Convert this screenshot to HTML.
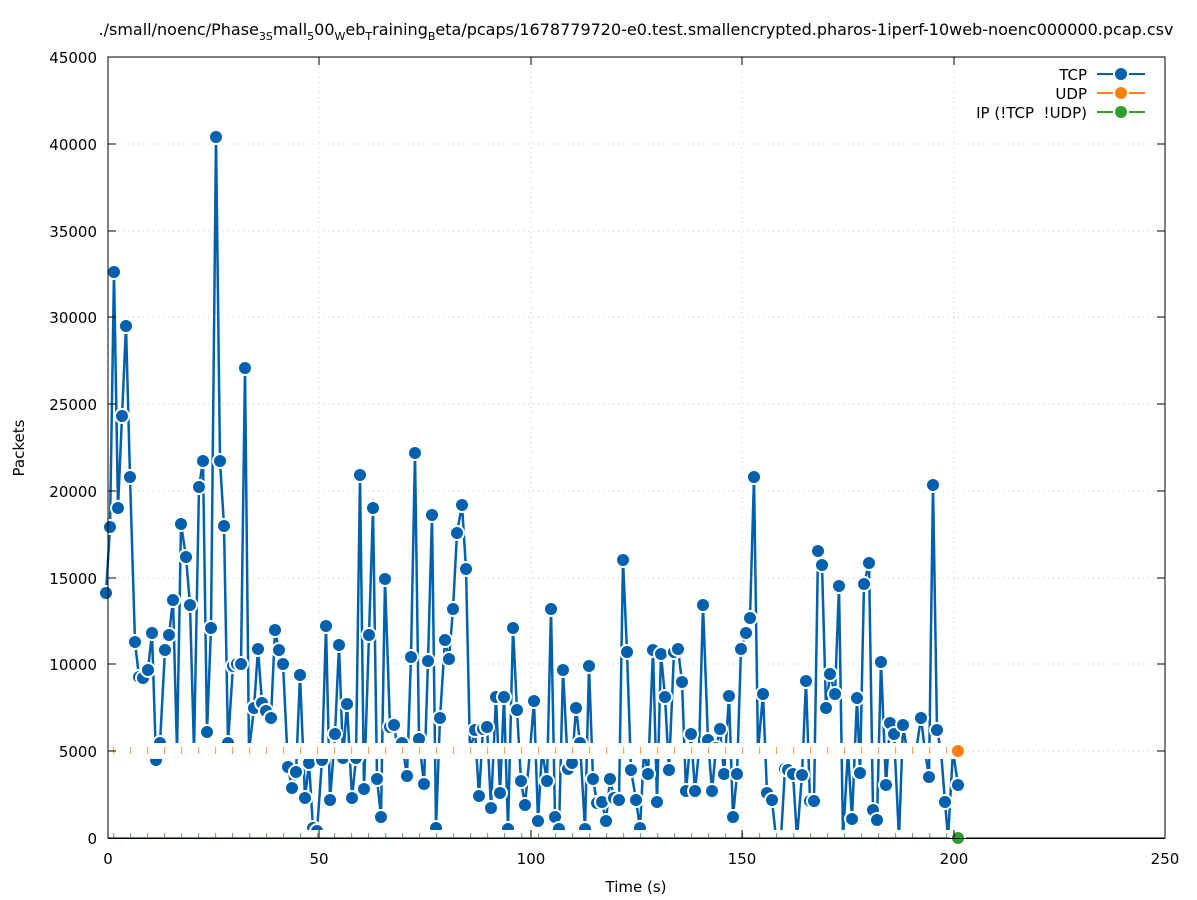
<!DOCTYPE html>
<html><head><meta charset="utf-8"><style>
html,body{margin:0;padding:0;background:#fff;}
svg{display:block;font-family:"DejaVu Sans","Liberation Sans",sans-serif;}
</style></head><body>
<svg width="1197" height="900" viewBox="0 0 1197 900" xmlns="http://www.w3.org/2000/svg">
<defs>
<marker id="m" markerUnits="userSpaceOnUse" markerWidth="20" markerHeight="20" refX="10" refY="10" overflow="visible">
<circle cx="10" cy="10" r="8" fill="#fff"/><circle cx="10" cy="10" r="6" fill="#0060ad"/>
</marker>
<pattern id="op" x="113" y="0" width="17" height="900" patternUnits="userSpaceOnUse"><rect x="0" y="747" width="1.2" height="7" fill="#ff7f0e" opacity="0.7"/></pattern>
<pattern id="gp" x="113" y="0" width="17" height="900" patternUnits="userSpaceOnUse"><rect x="0" y="833" width="1.2" height="9" fill="#2ca02c" opacity="0.7"/></pattern>
<clipPath id="c"><rect x="60" y="57" width="1105" height="781"/></clipPath>
</defs>
<g stroke="#c8c8c8" stroke-width="1" stroke-dasharray="1,4">
<line x1="108" y1="751" x2="1165" y2="751"/><line x1="108" y1="664" x2="1165" y2="664"/><line x1="108" y1="578" x2="1165" y2="578"/><line x1="108" y1="491" x2="1165" y2="491"/><line x1="108" y1="404" x2="1165" y2="404"/><line x1="108" y1="317" x2="1165" y2="317"/><line x1="108" y1="231" x2="1165" y2="231"/><line x1="108" y1="144" x2="1165" y2="144"/>
<line x1="319" y1="57" x2="319" y2="838"/><line x1="531" y1="57" x2="531" y2="838"/><line x1="742" y1="57" x2="742" y2="838"/><line x1="954" y1="57" x2="954" y2="838"/>
</g>
<g clip-path="url(#c)">
<polyline fill="none" stroke="#fff" stroke-width="5" stroke-linejoin="round" points="106,593 110,527 114,272 118,508 122,416 126,326 130,477 135,642 139,677 143,678 148,670 152,633 156,760 160,743 165,650 169,635 173,600 177,751 181,524 186,557 190,605 194,751 199,487 203,461 207,732 211,628 216,137 220,461 224,526 228,743 233,666 237,664 241,664 245,368 249,751 254,708 258,649 262,703 266,711 271,718 275,630 279,650 283,664 288,767 292,788 296,772 300,675 305,798 309,763 313,828 317,831 322,760 326,626 330,800 335,734 339,645 343,758 347,704 352,798 356,758 360,475 364,789 369,635 373,508 377,779 381,817 385,579 390,727 394,725 398,751 402,743 407,776 411,657 415,453 419,739 424,784 428,661 432,515 436,828 440,718 445,640 449,659 453,609 457,533 462,505 466,569 470,751 475,730 479,796 483,729 487,727 491,808 496,697 500,793 504,697 508,829 513,628 517,710 521,781 525,805 530,751 534,701 538,821 542,751 547,781 551,609 555,817 559,829 563,670 568,769 572,763 576,708 580,743 585,829 589,666 593,779 597,803 602,802 606,821 610,779 614,798 619,800 623,560 627,652 631,770 636,800 640,828 644,751 648,774 653,650 657,802 661,654 665,697 669,770 674,652 678,649 682,682 686,791 691,734 695,791 699,751 703,605 708,740 712,791 716,748 720,729 724,774 729,696 733,817 737,774 741,649 746,633 750,618 754,477 758,751 763,694 767,793 772,800 776,838 781,838 785,769 788,770 793,774 797,838 802,775 806,681 810,801 814,801 818,551 822,565 826,708 830,674 835,694 839,586 843,838 848,751 852,819 857,698 860,773 864,584 869,563 873,810 877,820 881,662 886,785 890,723 894,734 899,838 903,725 907,751 912,751 916,751 921,718 925,751 929,777 933,485 937,730 941,751 945,802 948,838 953,751 958,785"/>
<polyline fill="none" stroke="#0060ad" stroke-width="2.5" stroke-linejoin="round" marker-start="url(#m)" marker-mid="url(#m)" marker-end="url(#m)" points="106,593 110,527 114,272 118,508 122,416 126,326 130,477 135,642 139,677 143,678 148,670 152,633 156,760 160,743 165,650 169,635 173,600 177,751 181,524 186,557 190,605 194,751 199,487 203,461 207,732 211,628 216,137 220,461 224,526 228,743 233,666 237,664 241,664 245,368 249,751 254,708 258,649 262,703 266,711 271,718 275,630 279,650 283,664 288,767 292,788 296,772 300,675 305,798 309,763 313,828 317,831 322,760 326,626 330,800 335,734 339,645 343,758 347,704 352,798 356,758 360,475 364,789 369,635 373,508 377,779 381,817 385,579 390,727 394,725 398,751 402,743 407,776 411,657 415,453 419,739 424,784 428,661 432,515 436,828 440,718 445,640 449,659 453,609 457,533 462,505 466,569 470,751 475,730 479,796 483,729 487,727 491,808 496,697 500,793 504,697 508,829 513,628 517,710 521,781 525,805 530,751 534,701 538,821 542,751 547,781 551,609 555,817 559,829 563,670 568,769 572,763 576,708 580,743 585,829 589,666 593,779 597,803 602,802 606,821 610,779 614,798 619,800 623,560 627,652 631,770 636,800 640,828 644,751 648,774 653,650 657,802 661,654 665,697 669,770 674,652 678,649 682,682 686,791 691,734 695,791 699,751 703,605 708,740 712,791 716,748 720,729 724,774 729,696 733,817 737,774 741,649 746,633 750,618 754,477 758,751 763,694 767,793 772,800 776,838 781,838 785,769 788,770 793,774 797,838 802,775 806,681 810,801 814,801 818,551 822,565 826,708 830,674 835,694 839,586 843,838 848,751 852,819 857,698 860,773 864,584 869,563 873,810 877,820 881,662 886,785 890,723 894,734 899,838 903,725 907,751 912,751 916,751 921,718 925,751 929,777 933,485 937,730 941,751 945,802 948,838 953,751 958,785"/>
<rect x="106" y="743" width="852" height="16" fill="#fff"/>
<rect x="106" y="743" width="852" height="16" fill="url(#op)"/>
<rect x="106" y="830" width="852" height="16" fill="#fff"/>
<rect x="106" y="830" width="852" height="16" fill="url(#gp)"/>
</g>
<circle cx="958" cy="751" r="8" fill="#fff"/><circle cx="958" cy="751" r="6" fill="#ff7f0e"/>
<rect x="108" y="57" width="1057" height="781" fill="none" stroke="#000" stroke-width="1"/>
<circle cx="958" cy="838" r="8" fill="#fff"/><circle cx="958" cy="838" r="6" fill="#2ca02c"/>
<line x1="108" y1="838.5" x2="1165" y2="838.5" stroke="#000" stroke-width="1"/>
<g stroke="#000" stroke-width="1">
<line x1="108" y1="751" x2="116" y2="751"/><line x1="108" y1="664" x2="116" y2="664"/><line x1="108" y1="578" x2="116" y2="578"/><line x1="108" y1="491" x2="116" y2="491"/><line x1="108" y1="404" x2="116" y2="404"/><line x1="108" y1="317" x2="116" y2="317"/><line x1="108" y1="231" x2="116" y2="231"/><line x1="108" y1="144" x2="116" y2="144"/>
<line x1="1165" y1="751" x2="1157" y2="751"/><line x1="1165" y1="664" x2="1157" y2="664"/><line x1="1165" y1="578" x2="1157" y2="578"/><line x1="1165" y1="491" x2="1157" y2="491"/><line x1="1165" y1="404" x2="1157" y2="404"/><line x1="1165" y1="317" x2="1157" y2="317"/><line x1="1165" y1="231" x2="1157" y2="231"/><line x1="1165" y1="144" x2="1157" y2="144"/>
<line x1="319" y1="838" x2="319" y2="830"/><line x1="531" y1="838" x2="531" y2="830"/><line x1="742" y1="838" x2="742" y2="830"/><line x1="954" y1="838" x2="954" y2="830"/>
<line x1="319" y1="57" x2="319" y2="65"/><line x1="531" y1="57" x2="531" y2="65"/><line x1="742" y1="57" x2="742" y2="65"/><line x1="954" y1="57" x2="954" y2="65"/>
</g>
<g font-size="15" fill="#000" text-anchor="end">
<text x="97" y="844">0</text><text x="97" y="757">5000</text><text x="97" y="670">10000</text><text x="97" y="584">15000</text><text x="97" y="497">20000</text><text x="97" y="410">25000</text><text x="97" y="323">30000</text><text x="97" y="237">35000</text><text x="97" y="150">40000</text><text x="97" y="63">45000</text>
</g>
<g font-size="15" fill="#000" text-anchor="middle">
<text x="108" y="864">0</text><text x="319" y="864">50</text><text x="531" y="864">100</text><text x="742" y="864">150</text><text x="954" y="864">200</text><text x="1165" y="864">250</text>
<text x="636" y="892">Time (s)</text>
</g>
<text x="636" y="35" font-size="16" text-anchor="middle">./small/noenc/Phase<tspan font-size="11" dy="5">3S</tspan><tspan dy="-5">mall</tspan><tspan font-size="11" dy="5">5</tspan><tspan dy="-5">00</tspan><tspan font-size="11" dy="5">W</tspan><tspan dy="-5">eb</tspan><tspan font-size="11" dy="5">T</tspan><tspan dy="-5">raining</tspan><tspan font-size="11" dy="5">B</tspan><tspan dy="-5">eta/pcaps/1678779720-e0.test.smallencrypted.pharos-1iperf-10web-noenc000000.pcap.csv</tspan></text>
<text x="24" y="448" font-size="15" text-anchor="middle" transform="rotate(-90 24 448)">Packets</text>
<g font-size="15" text-anchor="end">
<text x="1087" y="80">TCP</text><text x="1087" y="99">UDP</text><text x="1087" y="118">IP (!TCP&#160;&#160;!UDP)</text>
</g>
<line x1="1097" y1="74" x2="1145" y2="74" stroke="#0060ad" stroke-width="2"/><circle cx="1121" cy="74" r="8" fill="#fff"/><circle cx="1121" cy="74" r="6" fill="#0060ad"/>
<line x1="1097" y1="93" x2="1145" y2="93" stroke="#ff7f0e" stroke-width="2"/><circle cx="1121" cy="93" r="8" fill="#fff"/><circle cx="1121" cy="93" r="6" fill="#ff7f0e"/>
<line x1="1097" y1="112" x2="1145" y2="112" stroke="#2ca02c" stroke-width="2"/><circle cx="1121" cy="112" r="8" fill="#fff"/><circle cx="1121" cy="112" r="6" fill="#2ca02c"/>
</svg>
</body></html>
